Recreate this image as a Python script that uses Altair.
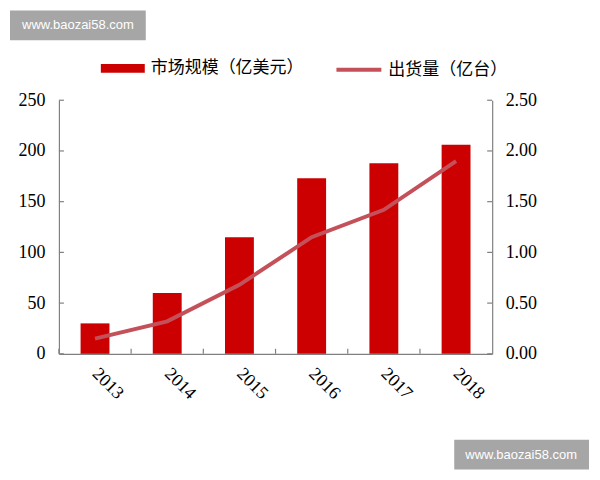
import altair as alt
import pandas as pd

years = ['2013', '2014', '2015', '2016', '2017', '2018']
market = [30, 60, 115, 173, 188, 206]
shipments = [0.15, 0.32, 0.68, 1.15, 1.42, 1.90]
left_ticks = [0, 50, 100, 150, 200, 250]
right_ticks = [0.0, 0.5, 1.0, 1.5, 2.0, 2.5]
label_market = '市场规模（亿美元）'
label_ship = '出货量（亿台）'
watermark = 'www.baozai58.com'

W, H = 434, 254
BAR = '#CC0000'
LINE = '#C4505A'
AX = '#808080'
NUMFONT = 'Liberation Serif'
CJK = 'Noto Sans CJK SC'

df = pd.DataFrame({'year': years, 'market': market, 'ship': shipments})
df['s1'] = label_market
df['s2'] = label_ship
lt = pd.DataFrame({'v': left_ticks})
wm = pd.DataFrame({'t': [watermark]})

xscale = alt.Scale(domain=years, paddingInner=0, paddingOuter=0)
yleft = alt.Scale(domain=[0, 250], nice=False)

xaxis = alt.Axis(title=None, labelAngle=45, labelAlign='left', labelBaseline='middle',
                 ticks=False, domainColor=AX, domainWidth=1.2, labelFont=NUMFONT,
                 labelFontSize=18, labelColor='black', labelPadding=17)
yaxis = alt.Axis(title=None, values=left_ticks, ticks=False, grid=False, domainColor=AX,
                 domainWidth=1.2, labelFont=NUMFONT, labelFontSize=18, labelColor='black',
                 labelPadding=14)

bars = alt.Chart(df).mark_bar(width=alt.RelativeBandSize(0.4)).encode(
    x=alt.X('year:N', scale=xscale, sort=years, axis=xaxis),
    y=alt.Y('market:Q', scale=yleft, axis=yaxis),
    color=alt.Color('s1:N', scale=alt.Scale(domain=[label_market], range=[BAR]),
                    legend=alt.Legend(orient='none', legendX=42, legendY=-54, title=None,
                                      symbolType='M-1,-0.2H1V0.2H-1Z', symbolSize=1936,
                                      symbolStrokeWidth=0, labelFont=CJK, labelFontSize=17,
                                      labelColor='black', labelOffset=6, padding=0)),
)

ytl = alt.Chart(lt).mark_rule(color=AX, strokeWidth=1.2).encode(
    y=alt.Y('v:Q', scale=yleft, axis=yaxis), x=alt.value(0), x2=alt.value(5))
ytr = alt.Chart(lt).mark_rule(color=AX, strokeWidth=1.2).encode(
    y=alt.Y('v:Q', scale=yleft, axis=yaxis), x=alt.value(W - 5), x2=alt.value(W))
xt = alt.Chart(df).mark_rule(color=AX, strokeWidth=1.2).encode(
    x=alt.X('year:N', scale=xscale, sort=years, bandPosition=0, axis=xaxis),
    y=alt.value(H), y2=alt.value(H - 5))

wm1 = alt.Chart(wm).mark_rect(color='#A6A6A6').encode(
    x=alt.value(-49), x2=alt.value(87), y=alt.value(-90), y2=alt.value(-60))
wm1t = alt.Chart(wm).mark_text(color='white', font='Liberation Sans', fontSize=13).encode(
    text='t:N', x=alt.value(19), y=alt.value(-75))
wm2 = alt.Chart(wm).mark_rect(color='#A6A6A6').encode(
    x=alt.value(396), x2=alt.value(531), y=alt.value(340), y2=alt.value(370))
wm2t = alt.Chart(wm).mark_text(color='white', font='Liberation Sans', fontSize=13).encode(
    text='t:N', x=alt.value(463), y=alt.value(355))

line = alt.Chart(df).mark_line(strokeWidth=4).encode(
    x=alt.X('year:N', scale=xscale, sort=years, axis=xaxis),
    y=alt.Y('ship:Q', scale=alt.Scale(domain=[0, 2.5], nice=False),
            axis=alt.Axis(title=None, orient='right', values=right_ticks, format='.2f', ticks=False,
                          grid=False, domainColor=AX, domainWidth=1.2, labelFont=NUMFONT,
                          labelFontSize=18, labelColor='black', labelPadding=13)),
    color=alt.Color('s2:N', scale=alt.Scale(domain=[label_ship], range=[LINE]),
                    legend=alt.Legend(orient='none', legendX=276, legendY=-55, title=None,
                                      symbolType='stroke', symbolSize=2025, symbolStrokeWidth=4,
                                      labelFont=CJK, labelFontSize=17, labelColor='black',
                                      labelOffset=5, padding=0)),
)

base = alt.layer(bars, ytl, ytr, xt, wm1, wm1t, wm2, wm2t)
chart = alt.layer(base, line).resolve_scale(y='independent', color='independent').properties(
    width=W, height=H,
    autosize=alt.AutoSizeParams(type='none'),
    padding={'left': 51, 'top': 92, 'right': 100, 'bottom': 120},
    background='white',
).configure_view(stroke=None)

chart.save('out.html', embed_options={'renderer': 'svg', 'actions': False})
